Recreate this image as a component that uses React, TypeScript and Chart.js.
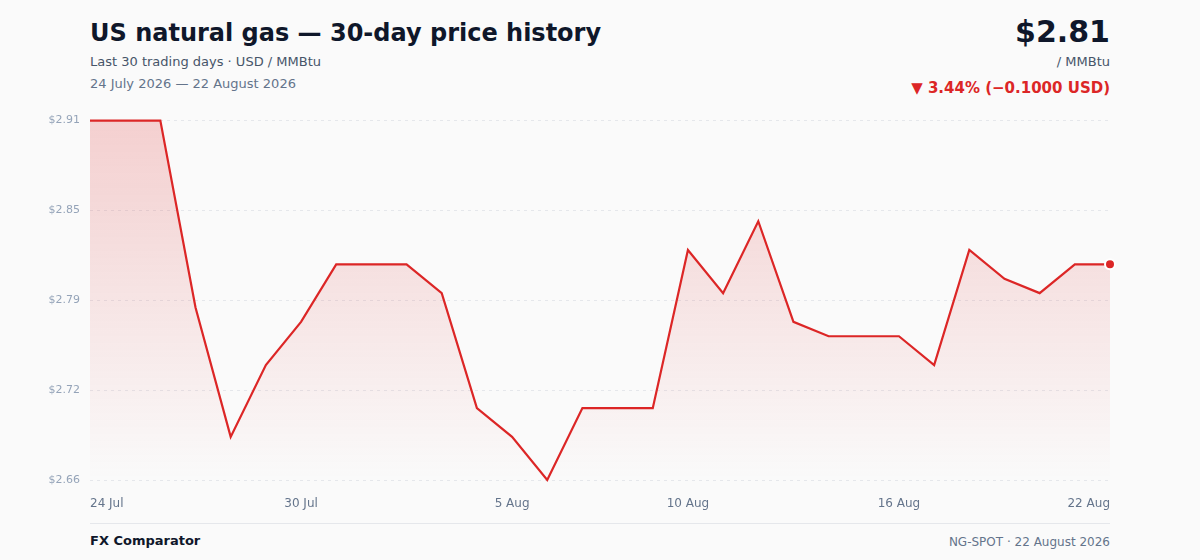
import React, { useEffect, useRef } from "react";
import { Chart, registerables } from "chart.js";

Chart.register(...registerables);

const dates = [
  "24 Jul", "25 Jul", "26 Jul", "27 Jul", "28 Jul", "29 Jul", "30 Jul", "31 Jul",
  "1 Aug", "2 Aug", "3 Aug", "4 Aug", "5 Aug", "6 Aug", "7 Aug", "8 Aug", "9 Aug",
  "10 Aug", "11 Aug", "12 Aug", "13 Aug", "14 Aug", "15 Aug", "16 Aug", "17 Aug",
  "18 Aug", "19 Aug", "20 Aug", "21 Aug", "22 Aug",
];

const prices = [
  2.91, 2.91, 2.91, 2.78, 2.69, 2.74, 2.77, 2.81, 2.81, 2.81,
  2.79, 2.71, 2.69, 2.66, 2.71, 2.71, 2.71, 2.82, 2.79, 2.84,
  2.77, 2.76, 2.76, 2.76, 2.74, 2.82, 2.80, 2.79, 2.81, 2.81,
];

const xTickLabels = ["24 Jul", "30 Jul", "5 Aug", "10 Aug", "16 Aug", "22 Aug"];
const yTickValues = [2.66, 2.7225, 2.785, 2.8475, 2.91];
const yTickLabels = ["$2.66", "$2.72", "$2.79", "$2.85", "$2.91"];

const FONT = "'DejaVu Sans', sans-serif";
const RED = "#dc2626";

export default function App() {
  const canvasRef = useRef<HTMLCanvasElement | null>(null);

  useEffect(() => {
    document.body.style.margin = "0";
    const canvas = canvasRef.current;
    if (!canvas) return;
    const chart = new Chart(canvas, {
      type: "line",
      data: {
        labels: dates,
        datasets: [
          {
            data: prices,
            borderColor: RED,
            borderWidth: 2.2,
            tension: 0,
            fill: "start",
            backgroundColor: (ctx: any) => {
              const area = ctx.chart.chartArea;
              if (!area) return "rgba(220,38,38,0.15)";
              const g = ctx.chart.ctx.createLinearGradient(0, area.top, 0, area.bottom);
              g.addColorStop(0, "rgba(220,38,38,0.20)");
              g.addColorStop(1, "rgba(220,38,38,0.0)");
              return g;
            },
            pointRadius: prices.map((_, i) => (i === prices.length - 1 ? 5 : 0)),
            pointHoverRadius: 0,
            pointBackgroundColor: RED,
            pointBorderColor: "#ffffff",
            pointBorderWidth: 2,
            clip: false as any,
          },
        ],
      },
      options: {
        animation: false,
        responsive: false,
        maintainAspectRatio: false,
        layout: { padding: { left: 0, right: 90, top: 4, bottom: 0 } },
        plugins: {
          legend: { display: false },
          tooltip: { enabled: false },
        },
        scales: {
          x: {
            type: "category",
            offset: false,
            grid: { display: false, drawTicks: false },
            border: { display: false },
            ticks: {
              autoSkip: false,
              maxRotation: 0,
              minRotation: 0,
              align: "inner",
              padding: 17,
              color: "#64748b",
              font: { family: FONT, size: 12 },
              callback: (_v: any, i: number) =>
                xTickLabels.includes(dates[i]) ? dates[i] : "",
            },
            afterFit: (scale: any) => {
              scale.height = 40;
            },
          },
          y: {
            min: 2.66,
            max: 2.91,
            grid: {
              color: "#e5e7eb",
              lineWidth: 1,
              drawTicks: false,
            },
            border: { display: false, dash: [3, 4] },
            afterBuildTicks: (scale: any) => {
              scale.ticks = yTickValues.map((v) => ({ value: v }));
            },
            ticks: {
              padding: 10,
              color: "#94a3b8",
              font: { family: FONT, size: 11 },
              callback: (_v: any, i: number) => yTickLabels[i],
            },
            afterFit: (scale: any) => {
              scale.width = 90;
            },
          },
        },
      },
    });
    return () => chart.destroy();
  }, []);

  const abs = (style: React.CSSProperties): React.CSSProperties => ({
    position: "absolute",
    whiteSpace: "nowrap",
    fontFamily: FONT,
    ...style,
  });

  return (
    <div
      style={{
        position: "relative",
        width: 1200,
        height: 560,
        background: "#fafafa",
        overflow: "hidden",
        fontFamily: FONT,
      }}
    >
      <div style={abs({ left: 90, top: 18, fontSize: 24, lineHeight: "30px", fontWeight: 700, color: "#0f172a" })}>
        US natural gas — 30-day price history
      </div>
      <div style={abs({ left: 90, top: 54, fontSize: 13, lineHeight: "16px", color: "#475569" })}>
        Last 30 trading days · USD / MMBtu
      </div>
      <div style={abs({ left: 90, top: 76, fontSize: 13, lineHeight: "16px", color: "#64748b" })}>
        24 July 2026 — 22 August 2026
      </div>
      <div style={abs({ right: 90, top: 13, fontSize: 30, lineHeight: "38px", fontWeight: 700, color: "#0f172a", textAlign: "right" })}>
        $2.81
      </div>
      <div style={abs({ right: 90, top: 54, fontSize: 13, lineHeight: "16px", color: "#475569", textAlign: "right" })}>
        / MMBtu
      </div>
      <div style={abs({ right: 90, top: 79, fontSize: 15, lineHeight: "18px", fontWeight: 700, color: RED, textAlign: "right" })}>
        ▼ 3.44% (−0.1000 USD)
      </div>
      <canvas
        ref={canvasRef}
        width={1200}
        height={416}
        style={{ position: "absolute", left: 0, top: 104, width: 1200, height: 416 }}
      />
      <div style={{ position: "absolute", left: 90, width: 1020, top: 523, height: 1, background: "#e5e7eb" }} />
      <div style={abs({ left: 90, top: 533, fontSize: 13, lineHeight: "16px", fontWeight: 700, color: "#0f172a" })}>
        FX Comparator
      </div>
      <div style={abs({ right: 90, top: 534, fontSize: 12, lineHeight: "16px", color: "#64748b", textAlign: "right" })}>
        NG-SPOT · 22 August 2026
      </div>
    </div>
  );
}
